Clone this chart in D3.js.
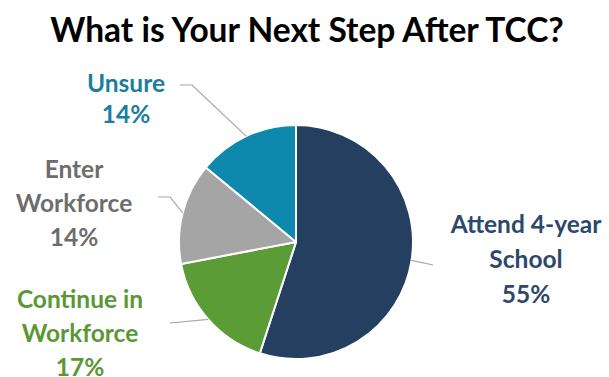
<!DOCTYPE html>
<html>
<head>
<meta charset="utf-8">
<script src="https://cdn.jsdelivr.net/npm/d3@7/dist/d3.min.js"></script>
<style>
  body { margin: 0; background: #fff; }
  text { font-family: Lato, 'Open Sans', sans-serif; font-weight: bold; }
</style>
</head>
<body>
<svg width="609" height="377"></svg>
<script>
const categories = ['Attend 4-year School', 'Continue in Workforce', 'Enter Workforce', 'Unsure'];
const values = [55, 17, 14, 14];
const labelLines = [['Attend 4-year', 'School', '55%'], ['Continue in', 'Workforce', '17%'], ['Enter', 'Workforce', '14%'], ['Unsure', '14%']];
const sliceColors = ['#243f5f', '#5c9c37', '#a5a5a5', '#0f88ae'];
const textColors = ['#2c486b', '#5a9836', '#6d6d6d', '#1b7e9f'];

const svg = d3.select('svg');
const width = +svg.attr('width');

const cx = 296, cy = 242, radius = 117;

// label anchor (centre x, first baseline) and leader elbow, per slice
const labelPos = [
    {x: 526, y: 233, step: 35, elbow: [433, 265], end: [433, 265]},
    {x: 80, y: 308, step: 34, elbow: [170, 323], end: [170, 323]},
    {x: 74, y: 178, step: 34, elbow: [170, 197], end: [158, 197]},
    {x: 126, y: 92, step: 31, elbow: [192, 85], end: [180, 85]}
];

svg.append('text')
    .attr('x', 307)
    .attr('y', 42)
    .attr('text-anchor', 'middle')
    .attr('font-size', 33.5)
    .attr('fill', '#000')
    .text('What is Your Next Step After TCC?');

const data = categories.map((c, i) => ({name: c, value: values[i], i}));

const pie = d3.pie().value(d => d.value).sort(null);
const arcs = pie(data);

const arc = d3.arc().innerRadius(0).outerRadius(radius);
const edgeArc = d3.arc().innerRadius(radius).outerRadius(radius);

const g = svg.append('g').attr('transform', `translate(${cx},${cy})`);

g.selectAll('path.slice').data(arcs)
    .enter().append('path')
        .attr('class', 'slice')
        .attr('d', arc)
        .attr('fill', d => sliceColors[d.data.i])
        .attr('stroke', '#fff')
        .attr('stroke-width', 2)
        .attr('stroke-linejoin', 'round');

// leader lines
arcs.forEach(d => {
    const p = labelPos[d.data.i];
    const [ex, ey] = edgeArc.centroid(d);
    svg.append('polyline')
        .attr('points', [[cx + ex, cy + ey], p.elbow, p.end].map(q => q.join(',')).join(' '))
        .attr('fill', 'none')
        .attr('stroke', '#a6a6a6')
        .attr('stroke-width', 1.2);
});

arcs.forEach(d => {
    const p = labelPos[d.data.i];
    const t = svg.append('text')
        .attr('text-anchor', 'middle')
        .attr('font-size', 24.5)
        .attr('fill', textColors[d.data.i]);
    labelLines[d.data.i].forEach((line, k) => {
        t.append('tspan')
            .attr('x', p.x)
            .attr('y', p.y + k * p.step)
            .text(line);
    });
});
</script>
</body>
</html>
